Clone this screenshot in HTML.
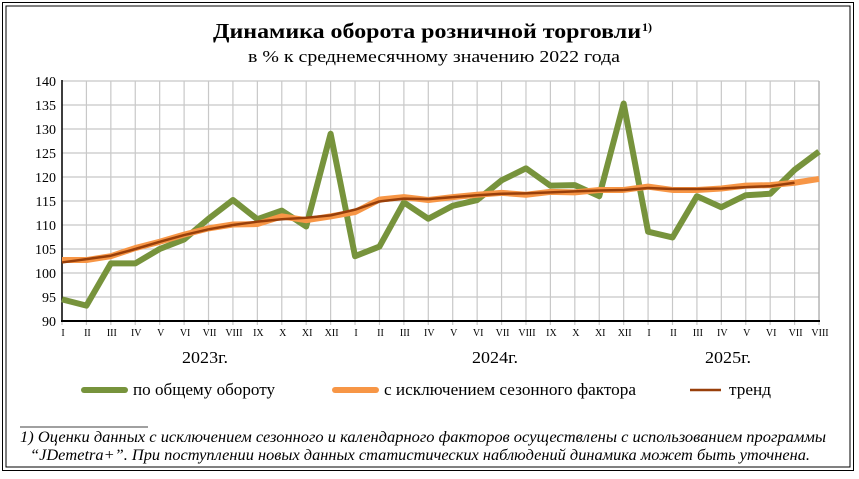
<!DOCTYPE html>
<html><head><meta charset="utf-8"><style>
body{margin:0;background:#fff}
svg{display:block;font-family:"Liberation Serif",serif}
</style></head><body>
<svg width="859" height="479" viewBox="0 0 859 479" xmlns="http://www.w3.org/2000/svg">
<rect x="2.5" y="2.5" width="851" height="468" fill="none" stroke="#000" stroke-width="1"/>
<rect x="6" y="6" width="844" height="461" fill="none" stroke="#000" stroke-width="1"/>
<text x="213" y="38" font-size="21" font-weight="bold" textLength="428" lengthAdjust="spacingAndGlyphs">Динамика оборота розничной торговли</text>
<text x="642" y="31" font-size="12" font-weight="bold">1)</text>
<text x="248" y="62" font-size="17" textLength="372" lengthAdjust="spacingAndGlyphs">в % к среднемесячному значению 2022  года</text>
<g stroke="#c8c8c8" stroke-width="1.2">
<path d="M62 81H819M62 105H819M62 129H819M62 153H819M62 177H819M62 201H819M62 225H819M62 249H819M62 273H819M62 297H819"/>
</g>
<g id="vg" stroke="#c8c8c8" stroke-width="1.2"></g>
<line x1="819" y1="81" x2="819" y2="321" stroke="#aaa" stroke-width="1.2"/>
<line x1="62" y1="80" x2="62" y2="322" stroke="#000" stroke-width="1.5"/>
<line x1="61" y1="321" x2="820" y2="321" stroke="#000" stroke-width="2"/>
<g font-size="14" text-anchor="end">
<text x="56" y="86">140</text><text x="56" y="110">135</text><text x="56" y="134">130</text><text x="56" y="158">125</text><text x="56" y="182">120</text><text x="56" y="206">115</text><text x="56" y="230">110</text><text x="56" y="254">105</text><text x="56" y="278">100</text><text x="56" y="302">95</text><text x="56" y="326">90</text>
</g>
<g id="xl" font-size="10" text-anchor="middle"></g>
<g transform="translate(62,321) scale(24.42,-4.8) translate(0,-90)" fill="none" stroke-linejoin="round">
<polyline vector-effect="non-scaling-stroke" stroke="#77933c" stroke-width="6" points="0,94.5 1,93.2 2,102 3,102 4,105 5,107 6,111.3 7,115.2 8,111.2 9,113 10,109.7 11,129 12,103.5 13,105.5 14,114.7 15,111.3 16,114 17,115.2 18,119.3 19,121.8 20,118.2 21,118.3 22,116 23,135.3 24,108.6 25,107.4 26,116 27,113.7 28,116.2 29,116.5 30,121.5 31,125.3"/>
<polyline vector-effect="non-scaling-stroke" stroke="#f79646" stroke-width="6" points="0,102.7 1,102.7 2,103.5 3,105.2 4,106.5 5,108 6,109.3 7,110.1 8,110.2 9,111.8 10,111 11,111.8 12,112.7 13,115.3 14,115.8 15,115.2 16,115.8 17,116.3 18,116.7 19,116.3 20,116.9 21,116.8 22,117.3 23,117.3 24,118 25,117.3 26,117.3 27,117.6 28,118.2 29,118.3 30,118.8 31,119.6"/>
<polyline vector-effect="non-scaling-stroke" stroke="#983f0a" stroke-width="2.5" points="0,102.2 1,102.9 2,103.6 3,105 4,106.5 5,107.9 6,109.1 7,110 8,110.7 9,111.2 10,111.5 11,112 12,113.2 13,114.9 14,115.5 15,115.4 16,115.8 17,116.2 18,116.5 19,116.6 20,116.8 21,117 22,117.2 23,117.3 24,117.7 25,117.5 26,117.5 27,117.6 28,117.9 29,118.1 30,118.8"/>
</g>
<g font-size="17">
<text x="182" y="363" textLength="46" lengthAdjust="spacingAndGlyphs">2023г.</text>
<text x="472" y="363" textLength="46" lengthAdjust="spacingAndGlyphs">2024г.</text>
<text x="705" y="363" textLength="46" lengthAdjust="spacingAndGlyphs">2025г.</text>
</g>
<line x1="84" y1="390" x2="125" y2="390" stroke="#77933c" stroke-width="6" stroke-linecap="round"/>
<text x="133" y="395" font-size="17" textLength="142" lengthAdjust="spacingAndGlyphs">по общему обороту</text>
<line x1="335" y1="390" x2="376" y2="390" stroke="#f79646" stroke-width="6" stroke-linecap="round"/>
<text x="384" y="395" font-size="17" textLength="252" lengthAdjust="spacingAndGlyphs">с исключением сезонного фактора</text>
<line x1="690" y1="390" x2="721" y2="390" stroke="#983f0a" stroke-width="2.5"/>
<text x="729" y="395" font-size="17" textLength="42" lengthAdjust="spacingAndGlyphs">тренд</text>
<line x1="20" y1="427" x2="148" y2="427" stroke="#000" stroke-width="0.8"/>
<g font-size="16" font-style="italic">
<text x="20" y="442" textLength="806" lengthAdjust="spacingAndGlyphs">1) Оценки данных с исключением сезонного и календарного факторов осуществлены с использованием  программы</text>
<text x="30" y="460" textLength="780" lengthAdjust="spacingAndGlyphs">“JDemetra+”. При поступлении новых данных статистических наблюдений динамика может быть уточнена.</text>
</g>
<script>
var vg=document.getElementById('vg'),xl=document.getElementById('xl');
var m=['I','II','III','IV','V','VI','VII','VIII','IX','X','XI','XII'];
for(var i=0;i<32;i++){var x=62+24.42*i;
var l=document.createElementNS('http://www.w3.org/2000/svg','line');
l.setAttribute('x1',x);l.setAttribute('x2',x);l.setAttribute('y1',81);l.setAttribute('y2',325);vg.appendChild(l);
var t=document.createElementNS('http://www.w3.org/2000/svg','text');t.setAttribute('x',x+1);t.setAttribute('y',336);t.textContent=m[i%12];xl.appendChild(t);}
</script>
</svg>
</body></html>
